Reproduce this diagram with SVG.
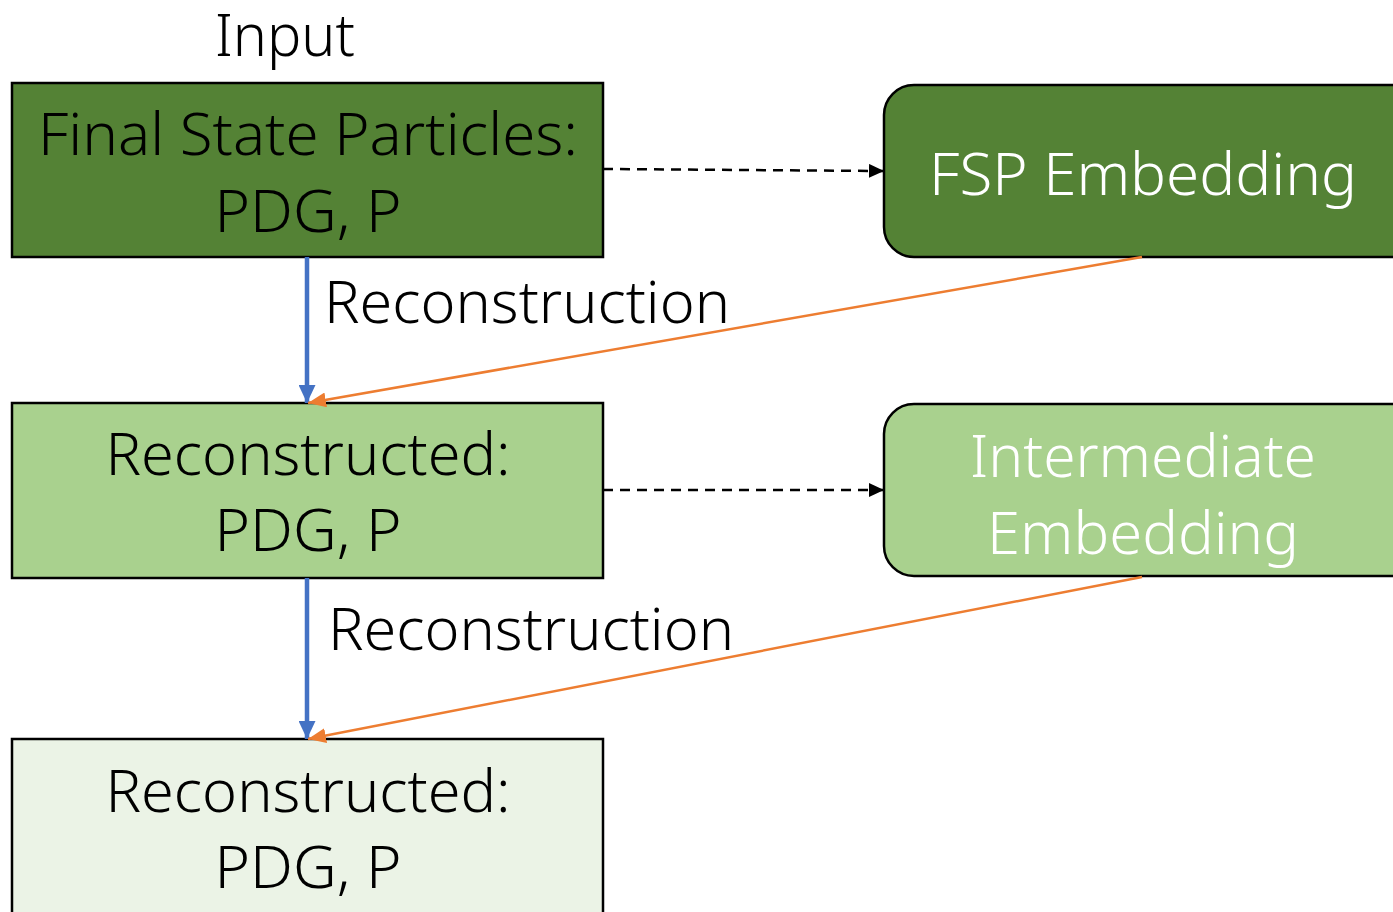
<svg xmlns="http://www.w3.org/2000/svg" width="1393" height="912" viewBox="0 0 1393 912">
  <defs>
    <marker id="ahBlack" viewBox="0 0 10 10" refX="10" refY="5" markerWidth="15" markerHeight="14" orient="auto" markerUnits="userSpaceOnUse" preserveAspectRatio="none">
      <path d="M0,0 L10,5 L0,10 z" fill="#000"/>
    </marker>
    <marker id="ahBlue" viewBox="0 0 10 10" refX="10" refY="5" markerWidth="18" markerHeight="17" orient="auto" markerUnits="userSpaceOnUse" preserveAspectRatio="none">
      <path d="M0,0 L10,5 L0,10 z" fill="#4472C4"/>
    </marker>
    <marker id="ahOrange" viewBox="0 0 10 10" refX="10" refY="5" markerWidth="18" markerHeight="15" orient="auto" markerUnits="userSpaceOnUse" preserveAspectRatio="none">
      <path d="M0,0 L10,5 L0,10 z" fill="#ED7D31"/>
    </marker>
    <style>
      text { font-family: "Noto Sans", "Liberation Sans", sans-serif; font-weight: 300; font-size: 58px; text-anchor: middle; }
      .dark { fill: #548235; }
      .mid { fill: #A9D18E; }
      .light { fill: #EBF3E6; }
      .box { stroke: #000; stroke-width: 2.5; }
      .white { fill: #fff; }
      .black { fill: #000; }
      .dash { stroke: #000; stroke-width: 2.5; stroke-dasharray: 10 7; fill: none; }
      .blue { stroke: #4472C4; stroke-width: 4.5; fill: none; }
      .orange { stroke: #ED7D31; stroke-width: 2.5; fill: none; }
    </style>
  </defs>

  <rect width="1393" height="912" fill="#fff"/>

  <text x="285" y="56" class="black" font-size="56" textLength="140" lengthAdjust="spacingAndGlyphs">Input</text>

  <g id="fsp">
    <rect class="box dark" x="12" y="83" width="591" height="174"/>
    <text x="308" y="155" class="black" textLength="540" lengthAdjust="spacingAndGlyphs">Final State Particles:</text>
    <text x="308" y="232" class="black" textLength="187" lengthAdjust="spacingAndGlyphs">PDG, P</text>
  </g>

  <g id="reco1">
    <rect class="box mid" x="12" y="403" width="591" height="175"/>
    <text x="308" y="475" class="black" textLength="405" lengthAdjust="spacingAndGlyphs">Reconstructed:</text>
    <text x="308" y="551" class="black" textLength="187" lengthAdjust="spacingAndGlyphs">PDG, P</text>
  </g>

  <g id="reco2">
    <rect class="box light" x="12" y="739" width="591" height="190"/>
    <text x="308" y="812" class="black" textLength="405" lengthAdjust="spacingAndGlyphs">Reconstructed:</text>
    <text x="308" y="888" class="black" textLength="187" lengthAdjust="spacingAndGlyphs">PDG, P</text>
  </g>

  <g id="fspEmbedding">
    <rect class="box dark" x="884" y="85" width="540" height="172" rx="30"/>
    <text x="1143" y="195" class="white" textLength="428" lengthAdjust="spacingAndGlyphs">FSP Embedding</text>
  </g>

  <g id="intermediateEmbedding">
    <rect class="box mid" x="884" y="404" width="540" height="172" rx="30"/>
    <text x="1143" y="477" class="white" textLength="346" lengthAdjust="spacingAndGlyphs">Intermediate</text>
    <text x="1143" y="554" class="white" textLength="312" lengthAdjust="spacingAndGlyphs">Embedding</text>
  </g>

  <g id="connectors">
    <line class="dash" x1="603" y1="169" x2="884" y2="171" marker-end="url(#ahBlack)"/>
    <line class="dash" x1="603" y1="490" x2="884" y2="490" marker-end="url(#ahBlack)"/>
    <line class="blue" x1="307" y1="257" x2="307" y2="403" marker-end="url(#ahBlue)"/>
    <line class="blue" x1="307" y1="578" x2="307" y2="739" marker-end="url(#ahBlue)"/>
    <line class="orange" x1="1142" y1="257" x2="308" y2="403" marker-end="url(#ahOrange)"/>
    <line class="orange" x1="1142" y1="577" x2="308" y2="739" marker-end="url(#ahOrange)"/>
    <text x="527" y="323" class="black" textLength="406" lengthAdjust="spacingAndGlyphs">Reconstruction</text>
    <text x="531" y="650" class="black" textLength="406" lengthAdjust="spacingAndGlyphs">Reconstruction</text>
  </g>
</svg>
